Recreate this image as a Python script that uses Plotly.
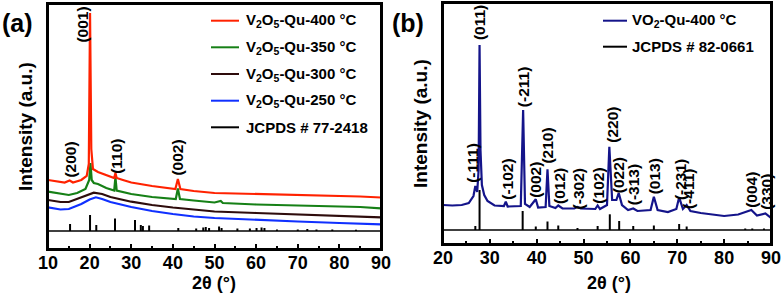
import plotly.graph_objects as go

# ---------------- DATA ----------------
# Panel (a): 2theta (deg) and intensity (a.u., arbitrary offset units)
a400_x = [10, 12, 14, 15.2, 16, 18, 19.3, 19.8, 20.1, 20.4, 20.8, 22, 24, 25.9, 26.2, 26.5, 28, 30, 35,
          40.6, 41.2, 41.8, 45, 50, 55, 60, 65, 70, 75, 80, 85, 90]
a400_y = [69, 68, 66.5, 68.5, 66.5, 69, 73, 85, 236, 100, 80, 77, 74, 71, 76, 71, 69, 66.5, 63,
          60, 70, 60, 58, 56, 55.5, 55, 54.5, 54, 53.5, 53.5, 52.5, 51.5]

a350_x = [10, 13, 15, 17, 19, 19.9, 20.2, 20.5, 21, 22, 24, 25.9, 26.2, 26.5, 28, 30, 35,
          40.7, 41.2, 41.7, 45, 50, 51.5, 52, 60, 70, 80, 85, 90]
a350_y = [57.3, 55, 54, 56, 60, 69, 86, 69, 66, 65, 61, 58.5, 72, 58.5, 57, 55, 52,
          50, 60.5, 50, 48.5, 46.5, 48, 46, 44.5, 43.5, 42.5, 42, 40.7]

a300_x = [10, 13, 15, 18, 20, 21, 23, 25, 30, 35, 40, 45, 50, 60, 70, 80, 90]
a300_y = [49, 47, 47, 52, 55, 56.3, 55, 52, 47.3, 44, 41.5, 39.5, 37.5, 36, 34.5, 33, 31.7]

a250_x = [10, 13, 15, 18, 20, 21.5, 23, 25, 30, 35, 40, 45, 50, 60, 70, 80, 90]
a250_y = [41.7, 39.5, 40, 45, 49.5, 51.7, 50, 47, 42, 38, 35, 32.5, 31, 29, 27.5, 26, 24.7]

# JCPDS # 77-2418 stick pattern
ref_a_base = 18
ref_a_pos = [15.3, 20.1, 21.6, 26.1, 30.9, 32.3, 32.8, 34.3, 41.3, 45.6, 47.3, 47.9, 48.7, 51.1, 51.7,
             55.5, 58.5, 60.1, 61.3, 62.0, 65.0, 70.0, 72.3, 74.5, 78.3, 84.0]
ref_a_int = [25, 34, 24, 30.5, 29, 24, 23, 23.5, 21, 20.5, 21.5, 22, 21, 22.5, 21,
             20.5, 20.5, 21, 21.5, 21, 19.5, 19.5, 20, 19.5, 19.5, 19.3]

a_labels = ["(001)", "(200)", "(110)", "(002)"]
a_label_x = [18.3, 15.3, 26.3, 40.9]
a_label_y = [224, 89.5, 93, 91]

# Panel (b)
b400_x = [20, 22, 24, 25.5, 26.5, 26.9, 27.3, 27.6, 27.8, 28.0, 28.3, 28.8, 29.5, 31, 33, 33.4, 33.8,
          36.6, 37.1, 37.5, 38.5, 39.8, 40.3, 41.9, 42.3, 42.7, 44.0, 44.6, 45.5, 48.0, 48.7, 49.4,
          52.5, 53.0, 53.5, 55.0, 55.5, 56.1, 57.0, 57.5, 58.2, 59.5, 60.6, 61.5, 64.3, 65.0, 65.8,
          68, 69.8, 70.4, 71.2, 72.0, 72.8, 75, 80, 83, 85.8, 87, 88.8, 90]
b400_y = [39, 38.5, 39, 41, 48, 58, 52, 74, 199, 94, 59, 49, 43, 38.5, 38, 42.3, 37.5,
          38, 134, 40, 37, 44.7, 36.5, 37, 74.7, 38, 36, 38.5, 35.5, 35.5, 37, 35.5,
          35, 38.5, 35, 39, 97.3, 44, 44, 51, 39, 34, 35.5, 33, 34, 47.3, 34,
          32, 35, 46.7, 35, 39, 33, 31, 28, 29.5, 34, 28.5, 30.5, 26]

# JCPDS # 82-0661 stick pattern
ref_b_base = 14
ref_b_pos = [26.9, 27.8, 37.0, 39.8, 42.3, 44.6, 48.7, 53.0, 55.6, 57.6, 60.6, 65.0, 70.4, 72.0,
             84.5, 86.0, 88.5]
ref_b_int = [18, 54, 33, 17.5, 22.5, 18.5, 16, 18, 29.7, 23, 18, 18.5, 20, 17.5, 15.5, 15.5, 15.5]

b_labels = ["(011)", "(-211)", "(220)", "(-111)", "(-102)", "(002)", "(210)", "(012)", "(-302)",
            "(102)", "(022)", "(-313)", "(013)", "(-231)", "(-411)", "(004)", "(330)"]
b_label_x = [27.7, 37.1, 56.0, 26.25, 33.6, 39.6, 42.1, 44.75, 48.9, 53.0, 57.4, 60.6, 65.1,
             70.6, 72.3, 85.7, 88.9]
b_label_y = [221, 157, 119, 81.5, 65, 64, 98, 58, 55, 58, 69, 59, 68, 64, 55, 54, 52]

# labelled ticks every 10 deg, minor ticks every 5 deg
ticks_a = [10, 20, 30, 40, 50, 60, 70, 80, 90]
ticks_b = [20, 30, 40, 50, 60, 70, 80, 90]
minor_a = [15, 25, 35, 45, 55, 65, 75, 85]
minor_b = [25, 35, 45, 55, 65, 75, 85]

legend_a = ["V<sub>2</sub>O<sub>5</sub>-Qu-400 °C", "V<sub>2</sub>O<sub>5</sub>-Qu-350 °C",
            "V<sub>2</sub>O<sub>5</sub>-Qu-300 °C", "V<sub>2</sub>O<sub>5</sub>-Qu-250 °C",
            "JCPDS # 77-2418"]
legend_b = ["VO<sub>2</sub>-Qu-400 °C", "JCPDS # 82-0661"]

# ---------------- STYLE ----------------
W, H = 782, 293
FONT = "Liberation Sans, Arial, sans-serif"
RED, GREEN, BROWN, BLUE, NAVY, BLACK = "#ff2200", "#168016", "#2e0c0c", "#1030ff", "#14148a", "#000000"


def px(x):
    return x / W


def py(y):
    return 1 - y / H


def sticks(pos, inten, base):
    xs, ys = [], []
    for p, h in zip(pos, inten):
        xs += [p, p, None]
        ys += [base, h, None]
    return xs, ys


fig = go.Figure()

# panel (a) traces
sx, sy = sticks(ref_a_pos, ref_a_int, ref_a_base)
fig.add_trace(go.Scatter(x=[10, 90], y=[ref_a_base, ref_a_base], mode="lines",
                         line=dict(color=BLACK, width=1.5), xaxis="x", yaxis="y", showlegend=False))
fig.add_trace(go.Scatter(x=sx, y=sy, mode="lines", line=dict(color=BLACK, width=2),
                         xaxis="x", yaxis="y", showlegend=False, name="JCPDS # 77-2418"))
for xs, ys, c, nm in [(a250_x, a250_y, BLUE, "250"), (a300_x, a300_y, BROWN, "300"),
                      (a350_x, a350_y, GREEN, "350"), (a400_x, a400_y, RED, "400")]:
    fig.add_trace(go.Scatter(x=xs, y=ys, mode="lines", line=dict(color=c, width=2.2),
                             xaxis="x", yaxis="y", showlegend=False, name=nm))

# panel (b) traces
sx, sy = sticks(ref_b_pos, ref_b_int, ref_b_base)
fig.add_trace(go.Scatter(x=[20, 90], y=[ref_b_base, ref_b_base], mode="lines",
                         line=dict(color=BLACK, width=1.5), xaxis="x2", yaxis="y2", showlegend=False))
fig.add_trace(go.Scatter(x=sx, y=sy, mode="lines", line=dict(color=BLACK, width=2),
                         xaxis="x2", yaxis="y2", showlegend=False, name="JCPDS # 82-0661"))
fig.add_trace(go.Scatter(x=b400_x, y=b400_y, mode="lines", line=dict(color=NAVY, width=2.2),
                         xaxis="x2", yaxis="y2", showlegend=False, name="VO2"))

axis_common = dict(showline=True, linecolor=BLACK, linewidth=2, mirror=True, showgrid=False,
                   zeroline=False, automargin=False)
xcommon = dict(axis_common, ticks="inside", ticklen=5, tickwidth=1.5, tickcolor=BLACK,
               tickmode="array", ticklabelstandoff=-4,
               tickfont=dict(family=FONT, size=18, color=BLACK, weight="bold"))
ycommon = dict(axis_common, showticklabels=False, ticks="")

fig.update_layout(
    template="none",
    width=W, height=H, margin=dict(l=0, r=0, t=0, b=0, pad=0, autoexpand=False),
    paper_bgcolor="white", plot_bgcolor="white", showlegend=False,
    xaxis=dict(xcommon, domain=[px(48), px(381)], range=[10, 90], tickvals=ticks_a,
               minor=dict(tickmode="array", tickvals=minor_a, ticks="inside", ticklen=3,
                          tickwidth=1.5, tickcolor=BLACK, showgrid=False),
               anchor="y"),
    yaxis=dict(ycommon, domain=[py(249), py(4)], range=[0, 245], anchor="x"),
    xaxis2=dict(xcommon, domain=[px(443), px(771)], range=[20, 90], tickvals=ticks_b,
                minor=dict(tickmode="array", tickvals=minor_b, ticks="inside", ticklen=3,
                           tickwidth=1.5, tickcolor=BLACK, showgrid=False),
                anchor="y2"),
    yaxis2=dict(ycommon, domain=[py(244), py(3)], range=[0, 241], anchor="x2"),
)

ann = []
lab_font = dict(family=FONT, size=15.5, color=BLACK, weight="bold")
for t, x, y in zip(a_labels, a_label_x, a_label_y):
    ann.append(dict(x=x, y=y, xref="x", yref="y", text=t, textangle=-90, showarrow=False, font=lab_font,
                    xanchor="center", yanchor="middle"))
for t, x, y in zip(b_labels, b_label_x, b_label_y):
    ann.append(dict(x=x, y=y, xref="x2", yref="y2", text=t, textangle=-90, showarrow=False, font=lab_font,
                    xanchor="center", yanchor="middle"))

# panel letters, axis titles
big = dict(family=FONT, size=25, color=BLACK, weight="bold")
tit = dict(family=FONT, size=19, color=BLACK, weight="bold")
xtit = dict(family=FONT, size=18, color=BLACK, weight="bold")
C = dict(xref="paper", yref="paper", showarrow=False, xanchor="center", yanchor="middle")
ann += [
    dict(C, x=px(17.5), y=py(23.5), text="(a)", font=big),
    dict(C, x=px(407.5), y=py(23), text="(b)", font=big),
    dict(C, x=px(25), y=py(127), text="Intensity (a.u.)", textangle=-90, font=tit),
    dict(C, x=px(420), y=py(124), text="Intensity (a.u.)", textangle=-90, font=tit),
    dict(C, x=px(214), y=py(283), text="2θ (°)", font=xtit),
    dict(C, x=px(609), y=py(283), text="2θ (°)", font=xtit),
]

# frames + manual legends
shapes = [
    dict(type="rect", xref="x domain", yref="y domain", x0=0, x1=1, y0=0, y1=1,
         line=dict(color=BLACK, width=2)),
    dict(type="rect", xref="x2 domain", yref="y2 domain", x0=0, x1=1, y0=0, y1=1,
         line=dict(color=BLACK, width=2)),
]
leg_font = dict(family=FONT, size=15, color=BLACK, weight="bold")
for t, c, ry in zip(legend_a, [RED, GREEN, BROWN, BLUE, BLACK], [20.7, 47.3, 74, 100.7, 127.3]):
    shapes.append(dict(type="line", xref="paper", yref="paper", x0=px(211), x1=px(239), y0=py(ry), y1=py(ry),
                       line=dict(color=c, width=2)))
    ann.append(dict(x=px(244), y=py(ry), xref="paper", yref="paper", text=t, xanchor="left",
                    yanchor="middle", showarrow=False, font=leg_font))
for t, c, ry in zip(legend_b, [NAVY, BLACK], [20.7, 46.7]):
    shapes.append(dict(type="line", xref="paper", yref="paper", x0=px(603), x1=px(627), y0=py(ry), y1=py(ry),
                       line=dict(color=c, width=2)))
    ann.append(dict(x=px(630), y=py(ry), xref="paper", yref="paper", text=t, xanchor="left",
                    yanchor="middle", showarrow=False, font=leg_font))

fig.update_layout(annotations=ann, shapes=shapes)
fig.write_html("out.html", config={"displayModeBar": False},
               post_script="document.body.style.margin='0';document.body.style.padding='0';")
